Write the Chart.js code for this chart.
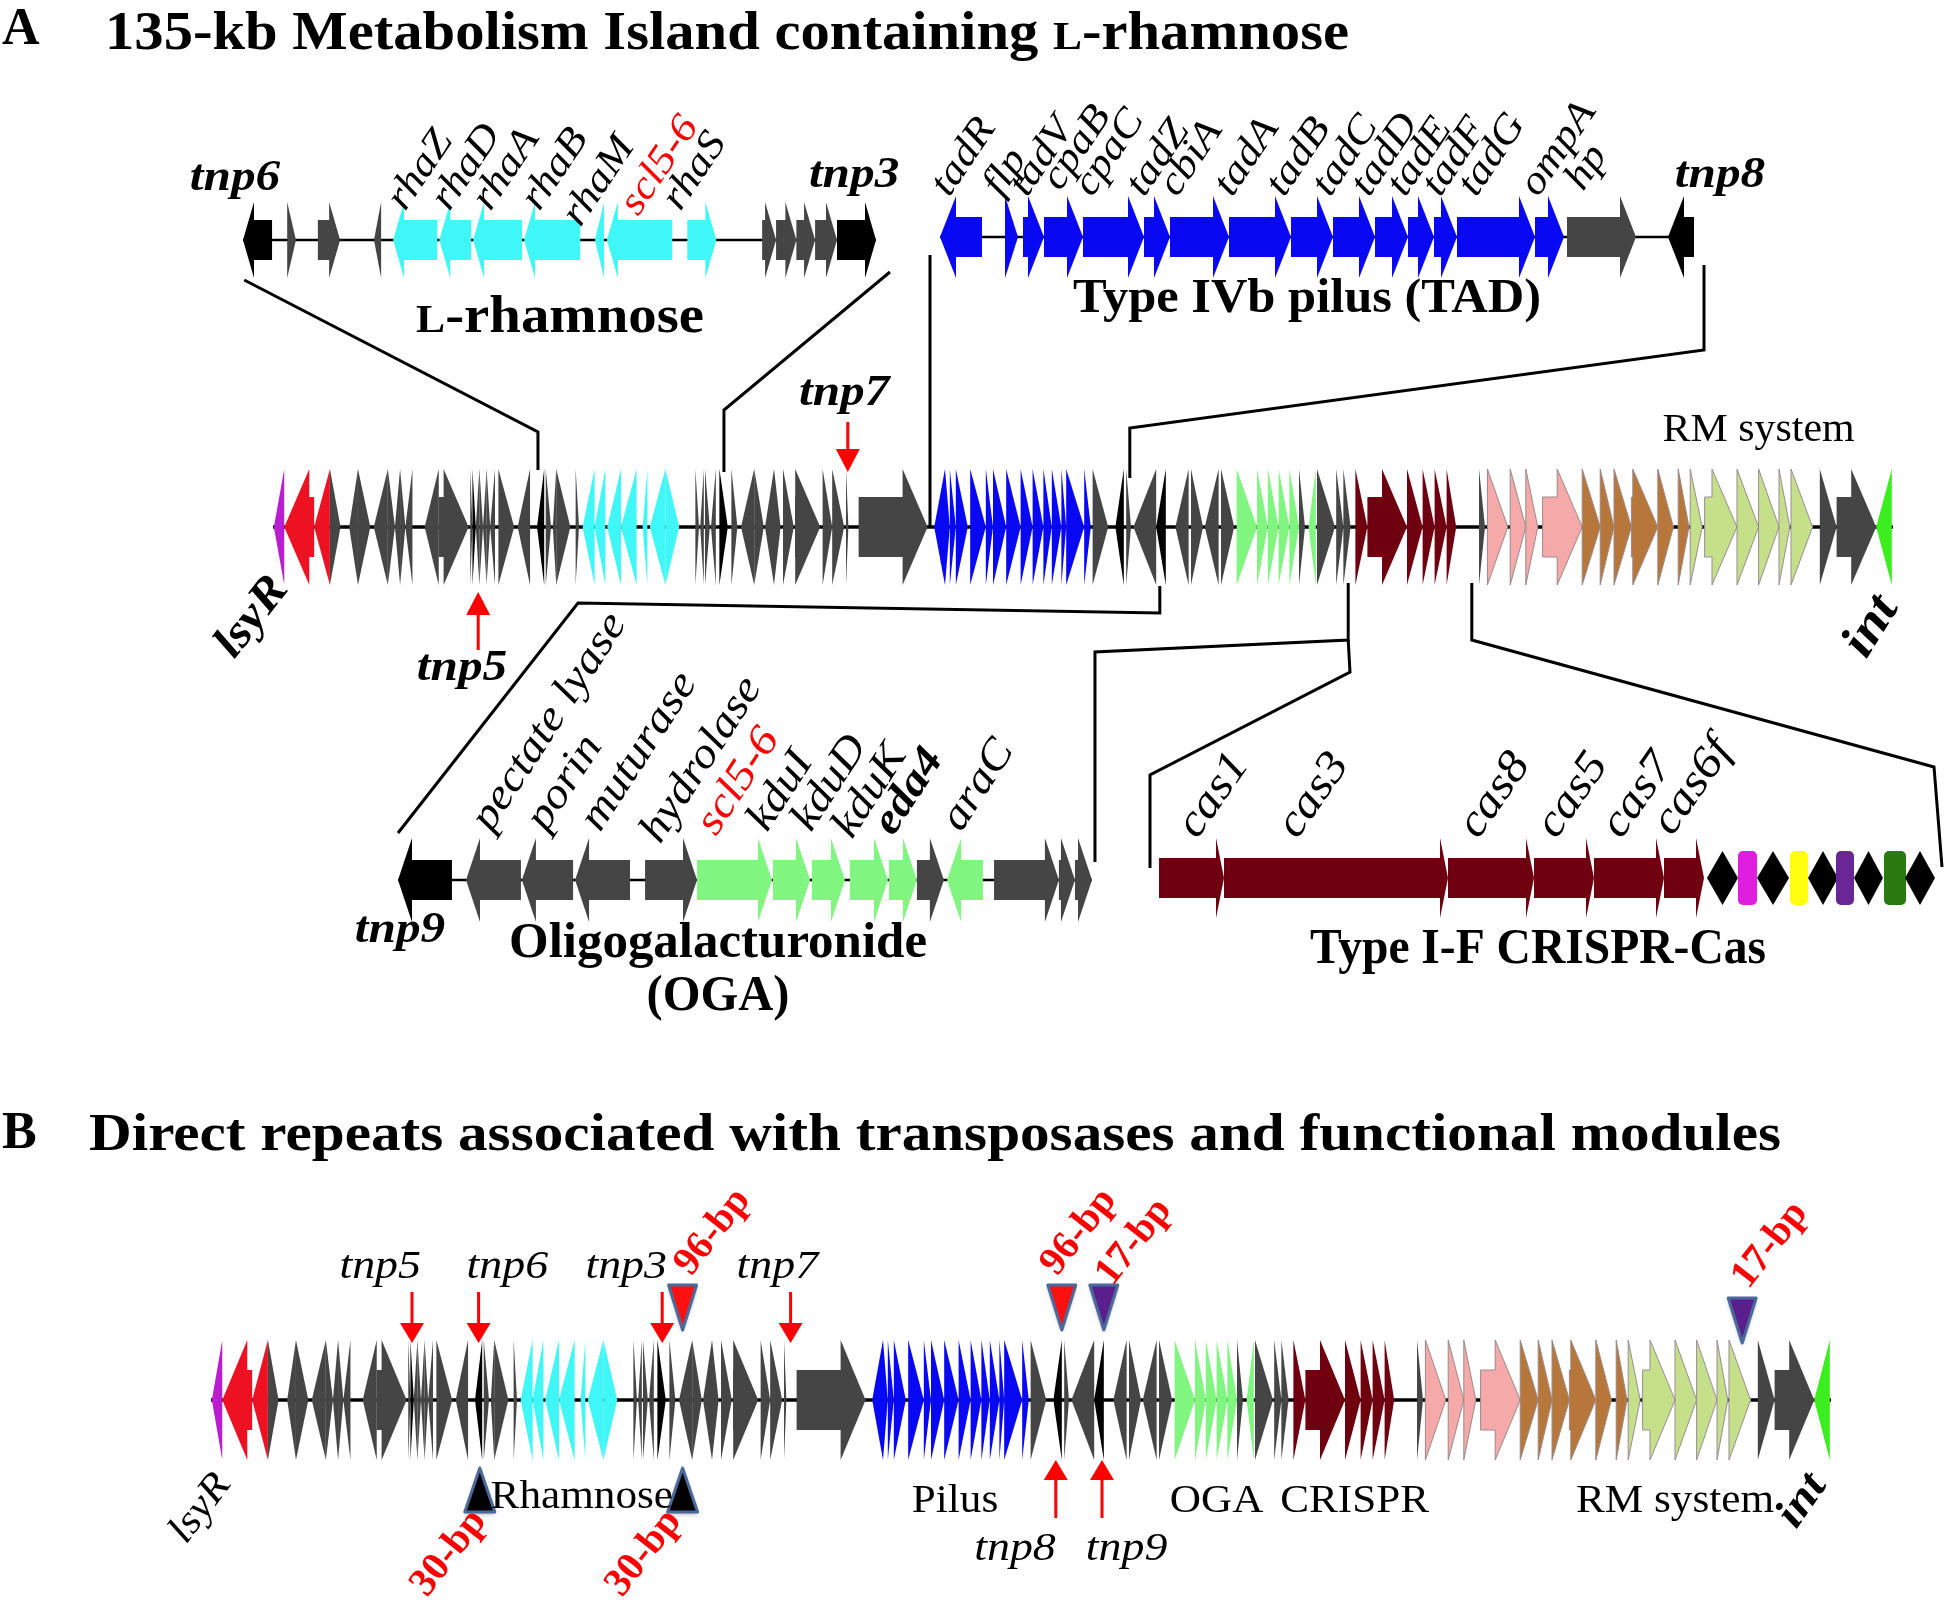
<!DOCTYPE html>
<html><head><meta charset="utf-8">
<script src="https://cdn.jsdelivr.net/npm/chart.js@4.4.1/dist/chart.umd.min.js"></script>
<style>html,body{margin:0;padding:0;background:#fff}#wrap{width:1946px;height:1606px;position:relative}</style>
</head><body><div id="wrap"><canvas id="c"></canvas></div>
<script>
// ================= DATA =================
// genes: [start, end, strand, type]  (main island in kb, insets in local units)
const mainGenes = [
[0.07,0.94,-1,'M'],[0.94,3.43,-1,'R'],[3.43,4.74,-1,'R'],[4.74,5.63,1,'G'],[6.35,7.08,-1,'G'],
[7.08,8.11,1,'G'],[8.40,9.57,-1,'G'],[9.57,10.16,1,'G'],[10.16,10.59,-1,'G'],[10.59,11.03,1,'G'],
[11.03,11.62,-1,'G'],[12.64,13.81,-1,'G'],[13.81,16.30,1,'G'],[16.44,16.62,1,'G'],[16.62,16.9,1,'K'],
[16.9,17.2,-1,'G'],[17.2,17.5,1,'G'],[17.5,17.8,-1,'G'],[17.8,18.1,1,'G'],[18.1,18.5,-1,'G'],
[18.78,20.1,1,'G'],[20.39,21.42,-1,'G'],[22.0,22.6,-1,'K'],[22.73,23.17,1,'G'],[23.32,23.6,-1,'G'],
[23.6,24.78,1,'G'],[25.22,25.5,1,'G'],[25.8,26.8,-1,'C'],[26.8,27.7,-1,'C'],[27.85,29.0,-1,'C'],
[29.0,30.3,-1,'C'],[30.8,31.2,-1,'C'],[31.4,32.7,-1,'C'],[32.7,33.85,1,'C'],[35.2,35.5,1,'G'],
[35.6,35.9,-1,'G'],[36.0,36.4,1,'G'],[36.5,36.9,-1,'G'],[37.2,37.9,1,'K'],[38.2,38.7,1,'G'],
[39.0,40.1,-1,'G'],[40.1,40.9,1,'G'],[41.0,41.75,-1,'G'],[41.75,42.3,1,'G'],[42.5,43.4,1,'G'],
[43.5,45.6,1,'G'],[45.8,46.6,1,'G'],[46.6,47.6,1,'G'],[47.75,47.95,1,'G'],[48.8,54.55,1,'G'],
[55.1,56.0,-1,'B'],[56.0,56.4,1,'B'],[56.4,56.9,1,'B'],[56.9,57.9,1,'B'],[58.1,59.4,1,'B'],
[59.4,60.0,1,'B'],[60.0,61.1,1,'B'],[61.1,62.3,1,'B'],[62.3,63.3,1,'B'],[63.3,64.2,1,'B'],
[64.2,64.9,1,'B'],[64.9,65.7,1,'B'],[65.7,66.1,1,'B'],[66.1,67.6,1,'B'],[67.6,68.15,1,'B'],
[68.3,69.6,1,'G'],[70.2,70.9,-1,'K'],[71.1,71.5,1,'G'],[71.7,73.6,-1,'G'],[73.6,74.4,-1,'K'],
[75.2,76.3,-1,'G'],[76.5,77.5,1,'G'],[77.65,78.8,-1,'G'],[79.0,80.1,1,'G'],[80.3,82.0,1,'L'],
[82.0,82.9,1,'L'],[82.9,83.8,1,'L'],[83.8,84.7,1,'L'],[84.7,85.5,1,'L'],[85.5,86.0,1,'G'],
[86.3,86.9,-1,'L'],[87.0,88.5,1,'G'],[88.6,89.2,1,'G'],[89.2,89.8,1,'G'],[90.2,91.2,1,'D'],
[91.2,94.5,1,'D'],[94.5,95.8,1,'D'],[95.8,96.8,1,'D'],[96.8,97.8,1,'D'],[97.8,98.6,1,'D'],
[100.5,101.0,1,'G'],[101.2,102.9,1,'P'],[103.1,104.4,1,'P'],[104.4,105.4,1,'P'],[105.8,109.1,1,'P'],
[109.1,110.6,1,'N'],[110.6,111.75,1,'N'],[111.75,113.2,1,'N'],[113.2,115.4,1,'N'],[115.4,116.7,1,'N'],
[117.1,118.0,1,'N'],[118.1,119.1,1,'Y'],[119.3,122.0,1,'Y'],[122.0,123.8,1,'Y'],[123.8,125.5,1,'Y'],
[125.5,126.4,1,'Y'],[126.5,128.3,1,'Y'],[128.9,130.3,1,'G'],[130.3,133.6,1,'G'],[133.6,134.9,-1,'I']
];
const rhaGenes = [
[0,0.73,-1,'K'],[1.11,1.33,1,'G'],[1.88,2.44,1,'G'],[3.29,3.47,-1,'G'],[3.77,4.88,-1,'C'],
[4.93,5.73,-1,'C'],[5.78,7.01,-1,'C'],[7.06,8.47,-1,'C'],[8.84,9.07,-1,'C'],[9.14,10.78,-1,'C'],
[11.16,11.89,1,'C'],[13.04,13.39,1,'G'],[13.39,13.9,1,'G'],[13.9,14.37,1,'G'],[14.37,14.92,1,'G'],
[14.92,15.9,1,'K']
];
const rhaLabels = [['rhaZ',4.07],['rhaD',5.18],['rhaA',6.21],['rhaB',7.44],['rhaM',8.47,16],['scl5-6',9.92,5,'#ff0000'],['rhaS',10.98]];
const tadGenes = [
[0,2.1,-1,'B'],[3.25,3.9,1,'B'],[4.15,5.2,1,'B'],[5.2,7.15,1,'B'],[7.15,10.2,1,'B'],[10.2,11.5,1,'B'],
[11.5,14.45,1,'B'],[14.45,17.55,1,'B'],[17.55,19.65,1,'B'],[19.65,21.75,1,'B'],[21.75,23.4,1,'B'],
[23.4,24.7,1,'B'],[24.7,25.85,1,'B'],[25.85,29.75,1,'B'],[29.75,31.2,1,'B'],[31.35,34.8,1,'G'],
[36.4,37.7,-1,'K']
];
const tadLabels = [['tadR',0.45],['flp',3.05],['tadV',4.35],['cpaB',6.0,-6],['cpaC',7.6],['tadZ',10.2],['cbiA',11.85],
['tadA',14.6],['tadB',17.2],['tadC',19.5],['tadD',21.45],['tadE',23.25],['tadF',25.0],['tadG',26.8],['ompA',29.9],['hp',32.15,-6]];
const ogaGenes = [
[0,2.72,-1,'K'],[3.43,6.2,-1,'G'],[6.25,8.83,-1,'G'],[8.93,11.7,-1,'G'],[12.46,15.08,1,'G'],
[15.08,18.86,1,'L'],[18.91,20.78,1,'L'],[20.88,22.54,1,'L'],[22.79,24.71,1,'L'],[24.76,26.17,1,'L'],
[26.17,27.53,1,'G'],[27.69,29.5,-1,'L'],[30.06,33.33,1,'G'],[33.33,34.14,1,'G'],[34.14,35.0,1,'G']
];
const ogaLabels = [['pectate lyase',4.69],['porin',7.46],['muturase',10.19],['hydrolase',13.21,12],['scl5-6',16.04,4,'#ff0000'],
['kduI',18.61],['kduD',20.83],['kduK',22.89,7],['eda4',24.96,4,'#000',true],['araC',28.39]];
const casGenes = [[0,3.25,1,'D'],[3.25,14.45,1,'D'],[14.45,18.75,1,'D'],[18.75,21.75,1,'D'],[21.75,25.25,1,'D'],[25.25,27.25,1,'D']];
const casLabels = [['cas1',1.9],['cas3',6.9],['cas8',15.95],['cas5',19.85],['cas7',23.1],['cas6f',25.65,-3]];
// CRISPR array: [start, end, kind]  (R = repeat diamond, else spacer colour)
const crisprArray = [[27.4,28.95,'R'],[28.95,29.9,'#e01ee0'],[29.9,31.5,'R'],[31.55,32.45,'#ffff10'],[32.45,33.95,'R'],
[33.85,34.75,'#6a2596'],[34.75,36.2,'R'],[36.25,37.35,'#2a7a12'],[37.3,38.8,'R']];
// transposase marks [name, arrow kb, label kb]
const tnpA = [['tnp7',47.9,47.6,'down'],['tnp5',17.1,15.75,'up']];
const tnpB = [['tnp5',16.75,14.1,'down'],['tnp6',22.3,24.7,'down'],['tnp3',37.6,34.6,'down'],['tnp7',48.3,47.2,'down'],
['tnp8',70.4,67.0,'up'],['tnp9',74.25,76.3,'up']];
// direct repeats [label, kb, direction, fill, label kb]
const repeatsB = [['96-bp',39.3,'down','#ff1010',40.0],['30-bp',22.4,'up','#000000',18.0],['30-bp',39.3,'up','#000000',34.25],
['96-bp',70.9,'down','#ff1010',70.5],['17-bp',74.4,'down','#5a1f8c',75.1],['17-bp',127.6,'down','#5a1f8c',128.1]];
const modulesB = [['Rhamnose',30.9],['Pilus',62.0],['OGA',83.8],['CRISPR',95.3],['RM system',122.0]];

// ================= STYLE / LAYOUT =================
const W = 1946, H = 1606;
const COL = {M:'#b81ecf',R:'#ee1122',G:'#454545',K:'#000000',C:'#40f7f7',B:'#0808f2',L:'#80f580',
  D:'#6e0010',P:'#f5a9a9',N:'#b8773a',Y:'#c6e08a',I:'#3dee1e'};
const EDGE = {P:'#9a8a8a',N:'#9a8a8a',Y:'#9a8a9a'};
const tracks = {
  main:{id:'xMain',genes:mainGenes,len:135,px0:273,px1:1893,base:527,h:58,hb:30,head:25,line:3.5},
  b:{id:'xB',genes:mainGenes,len:135,px0:211,px1:1831,base:1400,h:60,hb:30,head:25,line:3.5},
  rha:{id:'xRha',genes:rhaGenes,len:15.9,px0:243,px1:876,base:240,h:38,hb:20,head:11,line:2.5},
  tad:{id:'xTad',genes:tadGenes,len:37.7,px0:940,px1:1694,base:237,h:41,hb:20,head:16,line:2.5},
  oga:{id:'xOga',genes:ogaGenes,len:35,px0:398,px1:1092,base:880,h:42,hb:20,head:14,line:2.5},
  cas:{id:'xCas',genes:casGenes,len:38.8,px0:1159,px1:1935,base:878,h:40,hb:20,head:8,line:0}
};
const SERIF = "'Liberation Serif','Times New Roman',serif";

function xScale(t){
  const span = t.px1 - t.px0;
  return {type:'linear',display:false,bounds:'data',grace:0,min:-t.px0/span*t.len,max:t.len+(W-t.px1)/span*t.len};
}
const scales = {y:{type:'linear',display:false,min:0,max:H,reverse:true}};
Object.values(tracks).forEach(t=>{scales[t.id]=xScale(t);});

const datasets = Object.values(tracks).filter(t=>t.line>0).map(t=>({
  data:[{x:0,y:t.base},{x:t.len,y:t.base}],xAxisID:t.id,yAxisID:'y',showLine:true,
  borderColor:'#000',borderWidth:t.line,pointRadius:0,fill:false
}));

function font(o){return `${o.italic?'italic ':''}${o.bold?'bold ':''}${o.size}px ${SERIF}`;}
function text(ctx, segs, x, y, o){
  if (typeof segs === 'string') segs = [{t:segs}];
  ctx.save(); ctx.translate(x,y);
  if (o.rot) ctx.rotate(-o.rot*Math.PI/180);
  let total = 0; const ws = [];
  segs.forEach(s=>{ctx.font = font(Object.assign({},o,s)); const w = ctx.measureText(s.t).width; ws.push(w); total += w;});
  let sx = o.sx || 1; if (o.width) sx = o.width/total;
  ctx.scale(sx,1);
  let cx = o.align==='center' ? -total/2 : (o.align==='right' ? -total : 0);
  ctx.textBaseline='alphabetic'; ctx.textAlign='left';
  segs.forEach((s,i)=>{ctx.font = font(Object.assign({},o,s)); ctx.fillStyle = s.color||o.color||'#000'; ctx.fillText(s.t,cx,0); cx += ws[i];});
  ctx.restore();
}
function arrowShape(ctx,xa,xb,strand,yc,h,hb,head){
  const x1=Math.min(xa,xb), x2=Math.max(xa,xb), hl=Math.min(head,x2-x1);
  ctx.beginPath();
  if (strand>0){
    ctx.moveTo(x1,yc-hb); ctx.lineTo(x2-hl,yc-hb); ctx.lineTo(x2-hl,yc-h); ctx.lineTo(x2,yc);
    ctx.lineTo(x2-hl,yc+h); ctx.lineTo(x2-hl,yc+hb); ctx.lineTo(x1,yc+hb);
  } else {
    ctx.moveTo(x2,yc-hb); ctx.lineTo(x1+hl,yc-hb); ctx.lineTo(x1+hl,yc-h); ctx.lineTo(x1,yc);
    ctx.lineTo(x1+hl,yc+h); ctx.lineTo(x1+hl,yc+hb); ctx.lineTo(x2,yc+hb);
  }
  ctx.closePath();
}
function redArrow(ctx,x,y0,y1,hl,hw){
  const d = Math.sign(y1-y0);
  ctx.save(); ctx.strokeStyle='#ff0000'; ctx.fillStyle='#ff0000'; ctx.lineWidth=3;
  ctx.beginPath(); ctx.moveTo(x,y0); ctx.lineTo(x,y1-d*hl); ctx.stroke();
  ctx.beginPath(); ctx.moveTo(x,y1); ctx.lineTo(x-hw,y1-d*hl); ctx.lineTo(x+hw,y1-d*hl); ctx.closePath(); ctx.fill();
  ctx.restore();
}
function repTri(ctx,x,yb,yt,hw,fill){
  ctx.save(); ctx.beginPath(); ctx.moveTo(x-hw,yb); ctx.lineTo(x+hw,yb); ctx.lineTo(x,yt); ctx.closePath();
  ctx.shadowColor='rgba(0,0,0,0.35)'; ctx.shadowBlur=4; ctx.shadowOffsetY=2;
  ctx.fillStyle=fill; ctx.fill(); ctx.shadowColor='transparent';
  ctx.lineWidth=3; ctx.lineJoin='round'; ctx.strokeStyle='#4a6a9c'; ctx.stroke(); ctx.restore();
}
function polyline(ctx,pts){
  ctx.save(); ctx.strokeStyle='#000'; ctx.lineWidth=3; ctx.lineJoin='miter';
  ctx.beginPath(); pts.forEach((p,i)=> i?ctx.lineTo(p[0],p[1]):ctx.moveTo(p[0],p[1])); ctx.stroke(); ctx.restore();
}

const genePlugin = {
  id:'genes',
  beforeDraw(chart){const c=chart.ctx; c.save(); c.fillStyle='#fff'; c.fillRect(0,0,chart.width,chart.height); c.restore();},
  afterDatasetsDraw(chart){
    const ctx = chart.ctx, ys = chart.scales.y;
    const X = (k,v)=>chart.scales[tracks[k].id].getPixelForValue(v);
    const Y = v=>ys.getPixelForValue(v);
    // ---- connectors (zoom brackets) ----
    polyline(ctx,[[X('rha',0.03),Y(280)],[X('main',22.08),Y(432)],[X('main',22.08),Y(470)]]);
    polyline(ctx,[[X('rha',16.25),Y(272)],[X('main',37.58),Y(410)],[X('main',37.58),Y(472)]]);
    polyline(ctx,[[X('tad',-0.5),Y(255)],[X('main',54.75),Y(527)]]);
    polyline(ctx,[[X('tad',38.2),Y(265)],[X('tad',38.2),Y(350)],[X('main',71.4),Y(428)],[X('main',71.4),Y(478)]]);
    polyline(ctx,[[X('main',73.9),Y(586)],[X('main',73.9),Y(613)],[578,Y(603)],[X('oga',0),Y(833)]]);
    polyline(ctx,[[X('main',89.6),Y(583)],[X('main',89.6),Y(640)],[X('oga',35.15),Y(652)],[X('oga',35.15),Y(862)]]);
    polyline(ctx,[[X('main',89.6),Y(640)],[X('main',89.75),Y(672)],[X('cas',-0.45),Y(775)],[X('cas',-0.45),Y(868)]]);
    polyline(ctx,[[X('main',99.9),Y(583)],[X('main',99.9),Y(640)],[X('cas',38.75),Y(767)],[X('cas',39.15),Y(867)]]);
    // ---- genes ----
    Object.values(tracks).forEach(t=>{
      const xs = chart.scales[t.id], yc = Y(t.base);
      t.genes.forEach(g=>{
        arrowShape(ctx,xs.getPixelForValue(g[0]),xs.getPixelForValue(g[1]),g[2],yc,t.h,t.hb,t.head);
        ctx.fillStyle = COL[g[3]]; ctx.fill();
        if (EDGE[g[3]]) {ctx.lineWidth=1; ctx.strokeStyle=EDGE[g[3]]; ctx.stroke();}
      });
    });
    // CRISPR array
    {
      const xs = chart.scales.xCas, yc = Y(878), hh = 27;
      crisprArray.forEach(e=>{
        const a = xs.getPixelForValue(e[0]), b = xs.getPixelForValue(e[1]);
        ctx.beginPath();
        if (e[2]==='R'){ ctx.moveTo(a,yc); ctx.lineTo((a+b)/2,yc-hh); ctx.lineTo(b,yc); ctx.lineTo((a+b)/2,yc+hh); ctx.closePath(); ctx.fillStyle='#000'; }
        else { ctx.roundRect(a,yc-hh,b-a,2*hh,5); ctx.fillStyle=e[2]; }
        ctx.fill();
      });
    }
    // ---- titles ----
    text(ctx,'A',2,Y(44),{size:52,bold:true});
    text(ctx,[{t:'135-kb Metabolism Island containing '},{t:'L',size:40},{t:'-rhamnose'}],105,Y(49),{size:54,bold:true,width:1244});
    text(ctx,'B',2,Y(1148),{size:52,bold:true});
    text(ctx,'Direct repeats associated with transposases and functional modules',89,Y(1150),{size:53,bold:true,width:1692});
    // ---- module titles ----
    text(ctx,[{t:'L',size:40},{t:'-rhamnose'}],560,Y(332),{size:52,bold:true,align:'center',width:288});
    text(ctx,'Type IVb pilus (TAD)',1307,Y(312),{size:48,bold:true,align:'center',width:468});
    text(ctx,'Oligogalacturonide',718,Y(957),{size:51,bold:true,align:'center',width:418});
    text(ctx,'(OGA)',718,Y(1010),{size:51,bold:true,align:'center',width:143});
    text(ctx,'Type I-F CRISPR-Cas',1538,Y(963),{size:50,bold:true,align:'center',width:456});
    text(ctx,'RM system',X('main',123.8),Y(441),{size:39,align:'center',width:192});
    // ---- inset gene labels ----
    const lab = (k,arr,y,size,rot)=>arr.forEach(l=>text(ctx,l[0],X(k,l[1]),Y(y+(l[2]||0)),{size,italic:true,rot,sx:1.12,color:l[3]||'#000',bold:!!l[4]}));
    lab('rha',rhaLabels,212,40,56);
    lab('tad',tadLabels,198,40,56);
    lab('oga',ogaLabels,833,43,57);
    lab('cas',casLabels,840,45,55);
    // tnp names on insets
    const bi = {size:44,bold:true,italic:true,sx:1.12,align:'center'};
    text(ctx,'tnp6',X('rha',-0.2),Y(190),bi);
    text(ctx,'tnp3',X('rha',15.35),Y(187),bi);
    text(ctx,'tnp8',X('tad',39.0),Y(187),bi);
    text(ctx,'tnp9',X('oga',0.1),Y(942),bi);
    // ---- main track (A) marks ----
    tnpA.forEach(m=>{
      if (m[3]==='down'){ redArrow(ctx,X('main',m[1]),Y(422),Y(472),23,12); text(ctx,m[0],X('main',m[2]),Y(405),bi); }
      else { redArrow(ctx,X('main',m[1]),Y(650),Y(592),23,12); text(ctx,m[0],X('main',m[2]),Y(680),bi); }
    });
    text(ctx,'lsyR',234,Y(660),{size:46,bold:true,italic:true,rot:52,sx:1.1});
    text(ctx,'int',1866,Y(660),{size:50,bold:true,italic:true,rot:58,sx:1.12});
    // ---- panel B marks ----
    const it = {size:41,italic:true,sx:1.12,align:'center'};
    tnpB.forEach(m=>{
      if (m[3]==='down'){ redArrow(ctx,X('b',m[1]),Y(1292),Y(1343),20,12); text(ctx,m[0],X('b',m[2]),Y(1278),it); }
      else { redArrow(ctx,X('b',m[1]),Y(1518),Y(1460),20,12); text(ctx,m[0],X('b',m[2]),Y(1560),it); }
    });
    repeatsB.forEach((r,i)=>{
      const x = X('b',r[1]);
      if (r[2]==='down'){
        const top = r[1]>100 ? 1298 : 1285;
        repTri(ctx,x,Y(top),Y(top+45),14,r[3]);
        text(ctx,r[0],X('b',r[4]),Y(top-8+(r[0]==='17-bp'&&r[1]<100?10:0)),{size:40,bold:true,rot:52,color:'#ff0000'});
      } else {
        repTri(ctx,x,Y(1512),Y(1468),15,r[3]);
        text(ctx,r[0],X('b',r[4]),Y(1598),{size:40,bold:true,rot:52,color:'#ff0000'});
      }
    });
    modulesB.forEach(m=>text(ctx,m[0],X('b',m[1]),Y(m[0]==='Rhamnose'?1508:1512),{size:40,sx:1.08,align:'center'}));
    text(ctx,'lsyR',186,Y(1545),{size:40,italic:true,rot:53,sx:1.1});
    text(ctx,'int',1796,Y(1530),{size:44,bold:true,italic:true,rot:55,sx:1.12});
  }
};

new Chart(document.getElementById('c'),{
  type:'scatter',
  data:{datasets},
  options:{responsive:true,maintainAspectRatio:false,animation:false,events:[],
    layout:{padding:0},scales,
    plugins:{legend:{display:false},tooltip:{enabled:false},title:{display:false}}},
  plugins:[genePlugin]
});
</script></body></html>
